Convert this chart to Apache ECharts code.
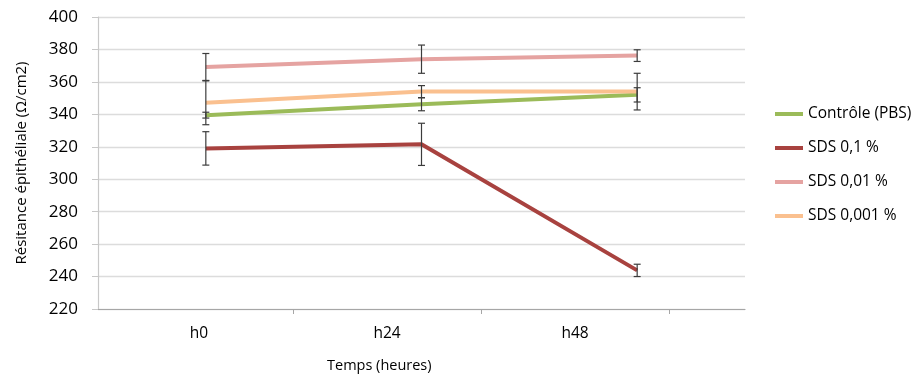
<!DOCTYPE html>
<html>
<head>
<meta charset="utf-8">
<script src="https://cdn.jsdelivr.net/npm/echarts@6/dist/echarts.min.js"></script>
<style>html,body{margin:0;padding:0;background:#fff}#c{width:914px;height:378px}</style>
</head>
<body>
<div id="c"></div>
<script>
var categories = ['h0', 'h24', 'h48'];
var seriesNames = ['Contrôle (PBS)', 'SDS 0,1 %', 'SDS 0,01 %', 'SDS 0,001 %'];
var controle = [339.5, 346.2, 352.0];
var controleErr = [1.8, 4.0, 4.4];
var sds01 = [319.0, 321.5, 243.8];
var sds01Err = [10.3, 13.0, 3.8];
var sds001 = [369.2, 374.0, 376.2];
var sds001Err = [8.3, 8.7, 3.6];
var sds0001 = [347.1, 354.0, 354.0];
var sds0001Err = [13.5, 3.7, 11.3];
var yTicks = [220, 240, 260, 280, 300, 320, 340, 360, 380, 400];

var colors = ['#9bbb59', '#a8423f', '#e5a3a1', '#fac08f'];
var values = [controle, sds01, sds001, sds0001];
var errs = [controleErr, sds01Err, sds001Err, sds0001Err];
var FONT = 'Open Sans';

var chart = echarts.init(document.getElementById('c'));
var series = [];
values.forEach(function (v, i) {
  series.push({
    name: seriesNames[i], type: 'line', xAxisIndex: 0, yAxisIndex: 0,
    data: v, symbol: 'none', color: colors[i],
    lineStyle: { width: 4, color: colors[i] }, z: 2 + i, silent: true
  });
});
var errData = [];
values.forEach(function (v, i) {
  v.forEach(function (y, j) { errData.push([j, y, errs[i][j]]); });
});
series.push({
  type: 'custom', xAxisIndex: 0, yAxisIndex: 0, z: 10, silent: true,
  data: errData,
  renderItem: function (params, api) {
    var x = api.value(0), y = api.value(1), e = api.value(2);
    var top = api.coord([x, y + e]);
    var bot = api.coord([x, y - e]);
    var cw = 3.5;
    var st = { stroke: '#3c3c3c', lineWidth: 1.2 };
    return { type: 'group', children: [
      { type: 'line', shape: { x1: top[0], y1: top[1], x2: bot[0], y2: bot[1] }, style: st },
      { type: 'line', shape: { x1: top[0] - cw, y1: top[1], x2: top[0] + cw, y2: top[1] }, style: st },
      { type: 'line', shape: { x1: bot[0] - cw, y1: bot[1], x2: bot[0] + cw, y2: bot[1] }, style: st }
    ] };
  }
});

chart.setOption({
  animation: false,
  grid: [
    { left: 98, right: 169, top: 17, bottom: 69 },
    { left: 105, width: 564, top: 17, bottom: 69 }
  ],
  xAxis: [
    { type: 'category', gridIndex: 0, data: categories, boundaryGap: true,
      axisLine: { lineStyle: { color: '#a6a6a6', width: 1.2 } },
      axisTick: { show: false }, axisLabel: { show: false }, splitLine: { show: false } },
    { type: 'category', gridIndex: 1, data: categories, boundaryGap: true,
      axisLine: { show: false },
      axisTick: { show: true, length: 5, interval: function (i) { return i > 0; }, lineStyle: { color: '#a6a6a6' } },
      axisLabel: { margin: 17, fontFamily: FONT, fontSize: 15.5, color: '#000' } }
  ],
  yAxis: [
    { type: 'value', gridIndex: 0, min: yTicks[0], max: yTicks[yTicks.length - 1], interval: 20,
      name: 'Résitance épithéliale (Ω/cm2)', nameLocation: 'middle', nameGap: 69,
      nameTextStyle: { fontFamily: FONT, fontSize: 15, color: '#000' },
      axisLine: { show: true, lineStyle: { color: '#c8c8c8', width: 1.2 } },
      axisTick: { show: true, length: 6, lineStyle: { color: '#c8c8c8' } },
      axisLabel: { margin: 20, fontFamily: FONT, fontSize: 17, color: '#000' },
      splitLine: { lineStyle: { color: '#dcdcdc', width: 1.3 } } },
    { type: 'value', gridIndex: 1, show: false, min: 0, max: 1 }
  ],
  legend: {
    orient: 'vertical', left: 770, top: 99, itemWidth: 28, itemHeight: 4, itemGap: 14,
    icon: 'rect', data: seriesNames,
    textStyle: { fontFamily: FONT, fontSize: 15.5, color: '#000', lineHeight: 20 }
  },
  graphic: [{
    type: 'text', left: 327, top: 358,
    style: { text: 'Temps (heures)', font: '14.5px "Open Sans"', fill: '#000' }
  }],
  series: series
});
</script>
</body>
</html>
